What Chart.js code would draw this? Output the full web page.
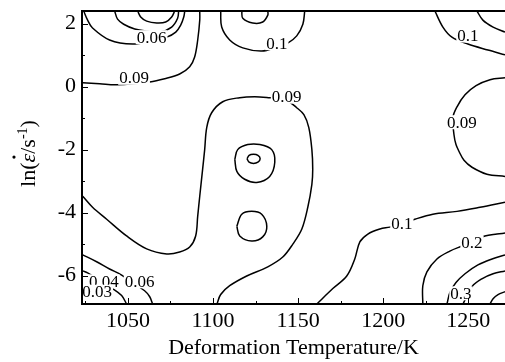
<!DOCTYPE html>
<html>
<head>
<meta charset="utf-8">
<script src="https://cdn.jsdelivr.net/npm/chart.js@4.4.1/dist/chart.umd.min.js"></script>
<style>
  html, body { margin: 0; padding: 0; background: #fff; }
</style>
</head>
<body>
<canvas id="contourChart" width="505" height="362"></canvas>
<script>
// axis ranges and ticks
const xMin = 1023, xMax = 1271.6;
const yMin = -6.9, yMax = 2.4;
const xTicks = [1050, 1100, 1150, 1200, 1250];
const xTickLabels = ["1050", "1100", "1150", "1200", "1250"];
const xMinorTicks = [1025, 1075, 1125, 1175, 1225];
const yTicks = [2, 0, -2, -4, -6];
const yTickLabels = ["2", "0", "-2", "-4", "-6"];
const yMinorTicks = [1, -1, -3, -5];

// contour lines, [temperature K, ln strain rate]
const contour006Top = [[1024, 2.4], [1026.3, 2.11], [1029.2, 1.86], [1039.2, 1.48], [1052.8, 1.35], [1063.9, 1.45], [1072.8, 1.57], [1078.1, 1.73], [1081.0, 1.95], [1082.8, 2.21], [1083.4, 2.4]];
const contour005Top = [[1042.2, 2.4], [1043.9, 2.14], [1047.5, 1.98], [1054.0, 1.83], [1061.6, 1.76], [1068.6, 1.73], [1075.7, 1.89], [1079.2, 2.17], [1079.8, 2.4]];
const contour004Top = [[1055.7, 2.4], [1057.5, 2.21], [1061.0, 2.08], [1066.9, 2.02], [1072.2, 2.05], [1075.7, 2.21], [1077.5, 2.4]];
const contour009TopLeft = [[1023.4, 0.12], [1033.4, 0.09], [1043.4, 0.06], [1062.8, 0.15], [1071.6, 0.25], [1080.4, 0.40], [1086.3, 0.63], [1089.2, 0.94], [1091.0, 1.48], [1092.2, 2.11], [1092.2, 2.4]];
const contour01TopMid = [[1104.5, 2.4], [1105.1, 1.89], [1109.8, 1.48], [1117.5, 1.23], [1128.6, 1.13], [1137.5, 1.25], [1143.9, 1.38], [1149.2, 1.61], [1152.8, 1.98], [1153.9, 2.4]];
const contourTopMidLoop = [[1116.9, 2.4], [1117.5, 2.17], [1123.3, 2.02], [1129.2, 2.05], [1132.2, 2.27], [1132.2, 2.4]];
const contour01TopRight = [[1230.4, 2.4], [1235.1, 1.89], [1240.4, 1.57], [1249.8, 1.35], [1261.6, 1.16], [1271.6, 1.01]];
const contourCornerTopRight = [[1255.1, 2.4], [1258.6, 2.11], [1264.6, 1.89], [1271.6, 1.73]];
const contour009Right = [[1271.6, 0.28], [1262.8, 0.22], [1254.6, 0.03], [1248.1, -0.26], [1243.4, -0.64], [1241.0, -0.98], [1241.6, -1.52], [1242.8, -1.84], [1244.6, -2.06], [1247.5, -2.34], [1252.2, -2.56], [1261.0, -2.78], [1271.6, -2.85]];
const contour009Mid = [[1023.4, -3.48], [1029.2, -3.83], [1037.5, -4.21], [1049.2, -4.74], [1061.0, -5.15], [1072.8, -5.31], [1080.4, -5.25], [1086.3, -5.09], [1089.8, -4.74], [1091.0, -4.11], [1092.2, -3.48], [1093.9, -2.62], [1095.1, -2.00], [1096.3, -1.30], [1099.2, -0.83], [1105.7, -0.48], [1115.7, -0.35], [1124.5, -0.32], [1133.3, -0.35], [1142.2, -0.40], [1149.2, -0.67], [1153.4, -0.89], [1156.3, -1.30], [1158.1, -2.00], [1158.6, -2.62], [1158.1, -3.10], [1155.7, -3.83], [1152.2, -4.52], [1146.9, -5.00], [1141.0, -5.41], [1132.2, -5.72], [1119.8, -6.01], [1109.8, -6.32], [1104.5, -6.60], [1102.3, -6.9]];
const loopUpperOuter = [[1112.8, -2.31], [1114.5, -2.00], [1120.4, -1.84], [1127.5, -1.84], [1134.5, -2.00], [1136.3, -2.40], [1133.3, -2.85], [1125.7, -3.04], [1118.6, -2.94], [1114.0, -2.69], [1112.8, -2.31]];
const loopUpperInner = [[1120.0, -2.29], [1121.2, -2.18], [1123.8, -2.15], [1126.4, -2.18], [1127.7, -2.29], [1126.4, -2.40], [1123.8, -2.44], [1121.2, -2.40], [1120.0, -2.29]];
const loopLower = [[1114.0, -4.43], [1116.9, -4.05], [1122.7, -3.96], [1128.6, -4.05], [1131.6, -4.43], [1129.2, -4.77], [1122.7, -4.90], [1115.7, -4.74], [1114.0, -4.43]];
const contour01Lower = [[1161.0, -6.9], [1170.4, -6.41], [1178.6, -6.01], [1183.3, -5.47], [1186.3, -4.93], [1191.0, -4.68], [1198.1, -4.52], [1203.9, -4.46], [1211.0, -4.36], [1218.6, -4.21], [1229.2, -4.05], [1243.4, -3.96], [1256.9, -3.83], [1271.6, -3.67]];
const contour02 = [[1223.3, -6.9], [1223.3, -6.32], [1225.7, -5.88], [1231.6, -5.47], [1239.2, -5.22], [1246.3, -5.06], [1252.2, -4.93], [1259.8, -4.74], [1266.9, -4.68], [1271.6, -4.65]];
const contour025 = [[1237.5, -6.9], [1239.2, -6.54], [1242.8, -6.22], [1248.1, -5.94], [1255.7, -5.66], [1264.0, -5.47], [1271.6, -5.34]];
const contour03 = [[1246.9, -6.9], [1252.2, -6.35], [1258.0, -6.10], [1264.6, -5.94], [1271.6, -5.85]];
const contourCornerBottomRight = [[1262.8, -6.9], [1264.6, -6.73], [1267.5, -6.60], [1271.6, -6.51]];
const contour006Bottom = [[1023.4, -5.34], [1031.6, -5.56], [1039.2, -5.79], [1046.3, -5.98], [1059.8, -6.48], [1062.8, -6.67], [1064.5, -6.9]];
const contour004Bottom = [[1023.4, -5.85], [1026.3, -5.91], [1041.0, -6.41], [1046.3, -6.63], [1049.2, -6.9]];

// contour value labels
const labelTexts = ["0.06", "0.09", "0.1", "0.1", "0.09", "0.09", "0.1", "0.2", "0.3", "0.04", "0.06", "0.03"];
const labelX = [1063.9, 1053.6, 1137.5, 1249.8, 1143.3, 1246.3, 1211.0, 1252.2, 1245.7, 1035.8, 1056.9, 1031.9];
const labelY = [1.57, 0.28, 1.38, 1.62, -0.32, -1.13, -4.33, -4.95, -6.56, -6.18, -6.18, -6.51];

const contourPaths = [
  contour006Top, contour005Top, contour004Top, contour009TopLeft,
  contour01TopMid, contourTopMidLoop, contour01TopRight, contourCornerTopRight,
  contour009Right, contour009Mid, loopUpperOuter, loopUpperInner, loopLower,
  contour01Lower, contour02, contour025, contour03, contourCornerBottomRight,
  contour006Bottom, contour004Bottom
];

const serif = '"Liberation Serif", "Times New Roman", serif';

const contourLabels = {
  id: "contourLabels",
  afterDatasetsDraw(chart) {
    const { ctx, chartArea: a, scales: { x, y } } = chart;
    ctx.save();
    ctx.beginPath();
    ctx.rect(a.left + 1, a.top + 1, a.right - a.left - 1, a.bottom - a.top - 2);
    ctx.clip();
    ctx.font = "17px " + serif;
    ctx.textAlign = "center";
    ctx.textBaseline = "alphabetic";
    labelTexts.forEach((t, i) => {
      const px = x.getPixelForValue(labelX[i]);
      const py = y.getPixelForValue(labelY[i]);
      const w = ctx.measureText(t).width;
      ctx.fillStyle = "#fff";
      ctx.fillRect(px - w / 2 - 1, py - 7, w + 2, 14);
      ctx.fillStyle = "#000";
      ctx.fillText(t, px, py + 5.5);
    });
    ctx.restore();
  },
};

const frameAndTicks = {
  id: "frameAndTicks",
  afterDraw(chart) {
    const { ctx, chartArea: a, scales: { x, y } } = chart;
    ctx.save();
    ctx.strokeStyle = "#000";
    ctx.lineWidth = 2;
    ctx.beginPath();
    ctx.moveTo(a.left, a.top);
    ctx.lineTo(a.right, a.top);
    ctx.stroke();

    const tick = (x0, y0, x1, y1) => {
      ctx.beginPath();
      ctx.moveTo(x0, y0);
      ctx.lineTo(x1, y1);
      ctx.stroke();
    };
    ctx.lineWidth = 1;
    xTicks.forEach((v) => {
      const px = Math.round(x.getPixelForValue(v)) + 0.5;
      tick(px, a.bottom, px, a.bottom - 6);
    });
    xMinorTicks.forEach((v) => {
      const px = Math.round(x.getPixelForValue(v)) + 0.5;
      tick(px, a.bottom, px, a.bottom - 3);
    });
    yTicks.forEach((v) => {
      const py = Math.round(y.getPixelForValue(v)) + 0.5;
      tick(a.left, py, a.left + 6, py);
    });
    yMinorTicks.forEach((v) => {
      const py = Math.round(y.getPixelForValue(v)) + 0.5;
      tick(a.left, py, a.left + 3, py);
    });

    // y title: ln(eps-dot / s^-1)
    const parts = [
      { t: "ln(", f: "22px " + serif, dy: 0 },
      { t: "\u03b5", f: "italic 22px " + serif, dy: 0, dot: true },
      { t: "/s", f: "22px " + serif, dy: 0 },
      { t: "-1", f: "14px " + serif, dy: -8 },
      { t: ")", f: "22px " + serif, dy: 0 },
    ];
    let total = 0;
    parts.forEach((p) => {
      ctx.font = p.f;
      p.w = ctx.measureText(p.t).width;
      total += p.w;
    });
    ctx.translate(35, (a.top + a.bottom) / 2 - 4);
    ctx.rotate(-Math.PI / 2);
    ctx.fillStyle = "#000";
    ctx.textAlign = "left";
    ctx.textBaseline = "alphabetic";
    let cx = -total / 2;
    parts.forEach((p) => {
      ctx.font = p.f;
      ctx.fillText(p.t, cx, p.dy);
      if (p.dot) {
        ctx.beginPath();
        ctx.arc(cx + p.w / 2 + 1, -21, 1.6, 0, Math.PI * 2);
        ctx.fill();
      }
      cx += p.w;
    });
    ctx.restore();
  },
};

new Chart("contourChart", {
  type: "scatter",
  data: {
    datasets: contourPaths.map((path) => ({
      data: path.map(([tx, ly]) => ({ x: tx, y: ly })),
      showLine: true,
      borderColor: "#000",
      borderWidth: 1.5,
      pointRadius: 0,
      tension: 0.35,
      fill: false,
    })),
  },
  options: {
    responsive: false,
    animation: false,
    devicePixelRatio: 1,
    layout: { padding: { top: 11, right: 0, left: 0, bottom: 0 } },
    plugins: { legend: { display: false }, tooltip: { enabled: false } },
    scales: {
      x: {
        type: "linear",
        min: xMin,
        max: xMax,
        afterBuildTicks: (s) => { s.ticks = xTicks.map((v) => ({ value: v })); },
        afterFit: (s) => { s.height = 58; s.paddingLeft = 0; s.paddingRight = 0; },
        ticks: {
          color: "#000",
          font: { family: serif, size: 22 },
          padding: 4,
          maxRotation: 0,
          autoSkip: false,
          callback: (v, i) => xTickLabels[i],
        },
        grid: { display: false, drawTicks: false },
        border: { display: true, color: "#000", width: 2 },
        title: {
          display: true,
          text: "Deformation Temperature/K",
          color: "#000",
          font: { family: serif, size: 22 },
          padding: { top: 0, bottom: 1 },
        },
      },
      y: {
        type: "linear",
        min: yMin,
        max: yMax,
        afterBuildTicks: (s) => { s.ticks = yTicks.map((v) => ({ value: v })); },
        afterFit: (s) => { s.width = 82; s.paddingTop = 0; s.paddingBottom = 0; },
        ticks: {
          color: "#000",
          font: { family: serif, size: 22 },
          padding: 6,
          autoSkip: false,
          callback: (v, i) => yTickLabels[i],
        },
        grid: { display: false, drawTicks: false },
        border: { display: true, color: "#000", width: 2 },
      },
    },
  },
  plugins: [contourLabels, frameAndTicks],
});
</script>
</body>
</html>
